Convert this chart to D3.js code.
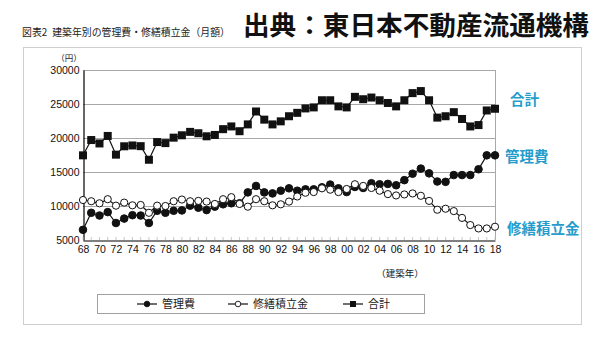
<!DOCTYPE html>
<html><head><meta charset="utf-8">
<script src="https://cdn.jsdelivr.net/npm/d3@7/dist/d3.min.js"></script>
<style>
html,body{margin:0;padding:0;background:#fff;}
svg{display:block;}
</style></head>
<body>
<svg id="chart" width="605" height="346"></svg>
<script>
const years = ["68","69","70","71","72","73","74","75","76","77","78","79","80","81","82","83","84","85","86","87","88","89","90","91","92","93","94","95","96","97","98","99","00","01","02","03","04","05","06","07","08","09","10","11","12","13","14","15","16","17","18"];
const tickLabels = ["68","70","72","74","76","78","80","82","84","86","88","90","92","94","96","98","00","02","04","06","08","10","12","14","16","18"];
const yTicks = [5000,10000,15000,20000,25000,30000];
const kanri = [6500,9000,8600,9100,7500,8150,8650,8600,7500,9300,9000,9300,9350,10050,9750,9400,9900,10250,10400,10400,12000,12950,12000,11850,12250,12600,12250,12450,12450,12750,13150,12600,12050,12800,12650,13350,13200,13250,13050,13800,14750,15500,14800,13600,13550,14550,14550,14550,15400,17450,17450];
const shuzen = [10880,10700,10400,11000,10050,10500,10100,10150,9000,10050,10000,10700,10950,10700,10750,10650,10300,11000,11300,10300,9900,11000,10700,10100,10250,10650,11400,11950,12050,12600,12400,12050,12500,13200,12950,12650,12250,11750,11550,11700,11850,11500,10750,9450,9600,9250,8250,7200,6700,6700,6950];
const goukei = [17450,19700,19200,20300,17550,18780,18900,18800,16800,19400,19250,20050,20400,20900,20700,20250,20450,21300,21700,21000,22000,23900,22700,22000,22450,23200,23700,24350,24500,25550,25550,24650,24500,26050,25700,25950,25550,25150,24650,25550,26600,26900,25550,23000,23200,23800,22800,21700,21900,24050,24300];
const seriesNames = ["管理費","修繕積立金","合計"];

const svg = d3.select("#chart");
const jp = "'Noto Sans CJK JP','Noto Sans CJK SC',sans-serif";
const num = "'Liberation Sans',Arial,sans-serif";
const teal = "#259ccb";

// outer frame
svg.append("rect").attr("x",23.5).attr("y",47.5).attr("width",558).attr("height",277)
  .attr("fill","none").attr("stroke","#cfcfcf").attr("stroke-width",1);

// titles
svg.append("text").attr("x",22).attr("y",36).attr("font-family",jp).attr("font-size",10.5)
  .attr("fill","#222").attr("textLength",208).attr("lengthAdjust","spacingAndGlyphs")
  .text("図表2\u2002建築年別の管理費・修繕積立金（月額）");
svg.append("text").attr("x",243).attr("y",35).attr("font-family",jp).attr("font-size",26)
  .attr("font-weight","bold").attr("fill","#111").attr("textLength",346).attr("lengthAdjust","spacingAndGlyphs")
  .text("出典：東日本不動産流通機構");

const x = d3.scalePoint().domain(years).range([83,495]);
const y = d3.scaleLinear().domain([5000,30000]).range([240,70]);

// gridlines
svg.append("g").selectAll("line").data(yTicks.filter(v=>v>5000)).join("line")
  .attr("x1",83).attr("x2",495).attr("y1",d=>Math.round(y(d))+0.5).attr("y2",d=>Math.round(y(d))+0.5)
  .attr("stroke","#a8a8a8").attr("stroke-width",1);
// right border
svg.append("line").attr("x1",495.5).attr("x2",495.5).attr("y1",70).attr("y2",240).attr("stroke","#a8a8a8");

// y axis
const yAxis = svg.append("g").attr("transform","translate(83.5,0)")
  .call(d3.axisLeft(y).tickValues(yTicks).tickSize(0).tickPadding(4).tickFormat(d3.format("d")));
yAxis.select(".domain").attr("stroke","#000").attr("stroke-width",1.2);
yAxis.selectAll("text").attr("font-family",num).attr("font-size",10.5).attr("fill","#111");

// x axis
const xAxis = svg.append("g").attr("transform","translate(0,240.5)")
  .call(d3.axisBottom(x).tickValues(tickLabels).tickSize(0).tickPadding(5));
xAxis.select(".domain").attr("stroke","#000").attr("stroke-width",1.2);
xAxis.selectAll("text").attr("font-family",num).attr("font-size",10.5).attr("fill","#111");
// minor ticks
svg.append("g").selectAll("line").data(years).join("line")
  .attr("x1",d=>x(d)).attr("x2",d=>x(d)).attr("y1",240).attr("y2",237)
  .attr("stroke","#bbb").attr("stroke-width",0.8);

svg.append("text").attr("x",69).attr("y",61).attr("text-anchor","middle").attr("font-family",jp)
  .attr("font-size",8.5).attr("fill","#222").text("（円）");
svg.append("text").attr("x",400).attr("y",277).attr("text-anchor","middle").attr("font-family",jp)
  .attr("font-size",9.5).attr("fill","#222").text("（建築年）");

const line = d3.line().x((d,i)=>x(years[i])).y(d=>y(d));
const data = [kanri, shuzen, goukei];
data.forEach(s=>{
  svg.append("path").datum(s).attr("d",line).attr("fill","none").attr("stroke","#111").attr("stroke-width",1.2);
});
// markers
function drawMarkers(g, type, cx, cy){
  if(type===2){
    g.append("rect").attr("x",cx-4).attr("y",cy-4).attr("width",8).attr("height",8).attr("fill","#111");
  } else {
    g.append("circle").attr("cx",cx).attr("cy",cy).attr("r",type===0?3.8:3.6)
      .attr("fill",type===0?"#111":"#fff").attr("stroke","#111").attr("stroke-width",1);
  }
}
const mg = svg.append("g");
data.forEach((s,k)=>{ s.forEach((v,i)=>drawMarkers(mg,k,x(years[i]),y(v))); });

// right labels
const rl = [[510,105,"合計"],[505,162,"管理費"],[507,234,"修繕積立金"]];
rl.forEach(d=>svg.append("text").attr("x",d[0]).attr("y",d[1]).attr("font-family",jp)
  .attr("font-size",14.5).attr("font-weight","bold").attr("fill",teal).text(d[2]));

// legend
svg.append("rect").attr("x",97.5).attr("y",294.5).attr("width",327).attr("height",19)
  .attr("fill","#fff").attr("stroke","#a0a0a0");
const legX = [147,238,353];
seriesNames.forEach((n,k)=>{
  const cx = legX[k], cy = 304;
  svg.append("line").attr("x1",cx-10).attr("x2",cx+10).attr("y1",cy).attr("y2",cy).attr("stroke","#111").attr("stroke-width",1.2);
  if(k===2){ svg.append("rect").attr("x",cx-3).attr("y",cy-3).attr("width",6).attr("height",6).attr("fill","#111"); }
  else { svg.append("circle").attr("cx",cx).attr("cy",cy).attr("r",2.8).attr("fill",k===0?"#111":"#fff").attr("stroke","#111").attr("stroke-width",0.9); }
  svg.append("text").attr("x",cx+15).attr("y",cy+4).attr("font-family",jp).attr("font-size",11).attr("fill","#222").text(n);
});
</script>
</body></html>
